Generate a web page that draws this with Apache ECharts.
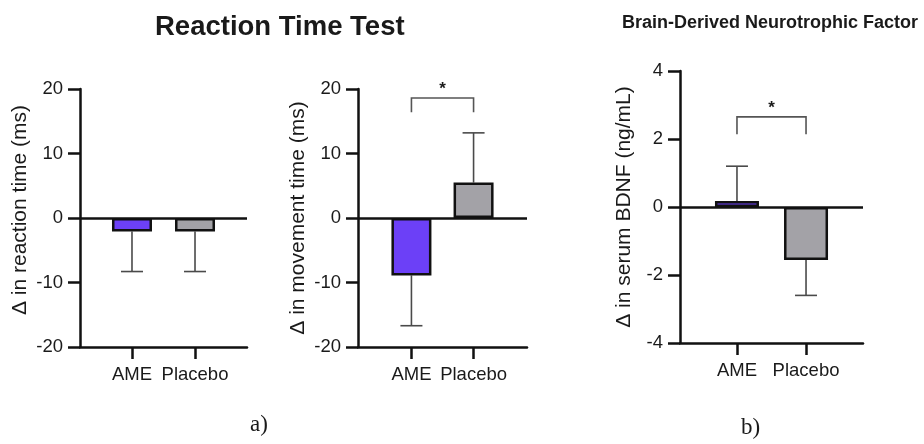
<!DOCTYPE html>
<html>
<head>
<meta charset="utf-8">
<script src="https://cdn.jsdelivr.net/npm/echarts@6/dist/echarts.min.js"></script>
<style>
  html, body { margin: 0; padding: 0; background: #fff; }
  #main { width: 924px; height: 444px; }
</style>
</head>
<body>
<div id="main"></div>
<script>
// data
var categories = ['AME', 'Placebo'];
var barColors = ['#6c40f7', '#a3a2a7'];

var reactionMean = [-2.1, -2.1];
var reactionErr = [6.2, 6.2];

var movementMean = [-8.9, 5.5];
var movementErr = [7.8, 7.7];

var bdnfMean = [0.18, -1.56];
var bdnfErr = [1.02, 1.04];

// significance brackets: [fromCat, toCat, top, legEnd]
var movementBracket = [[0, 1, 18.6, 16.4]];
var bdnfBracket = [[0, 1, 2.65, 2.14]];

var FONT = '"Liberation Sans", Arial, Helvetica, sans-serif';
var INK = '#1a1a1a';

var myChart = echarts.init(document.getElementById('main'));

function barData (means) {
    return means.map(function (v, i) {
        return { value: [i, v], itemStyle: { color: barColors[i] } };
    });
}

function errData (means, errs) {
    // error bar only drawn away from zero
    return means.map(function (v, i) {
        return [i, v, v + (v < 0 ? -errs[i] : errs[i])];
    });
}

function renderErr (params, api) {
    var a = api.coord([api.value(0), api.value(1)]);
    var b = api.coord([api.value(0), api.value(2)]);
    var style = { stroke: '#4a4a4a', lineWidth: 1.6 };
    return {
        type: 'group',
        children: [
            { type: 'line', shape: { x1: a[0], y1: a[1], x2: b[0], y2: b[1] }, style: style },
            { type: 'line', shape: { x1: b[0] - 11, y1: b[1], x2: b[0] + 11, y2: b[1] }, style: style }
        ]
    };
}

function renderBracket (params, api) {
    var p0 = api.coord([api.value(0), api.value(3)]);
    var p1 = api.coord([api.value(0), api.value(2)]);
    var p2 = api.coord([api.value(1), api.value(2)]);
    var p3 = api.coord([api.value(1), api.value(3)]);
    return {
        type: 'group',
        children: [
            { type: 'polyline', shape: { points: [p0, p1, p2, p3] },
              style: { stroke: '#555', lineWidth: 1.6, fill: null } },
            { type: 'text', style: { text: '*', x: (p1[0] + p2[0]) / 2, y: p1[1] - 9,
              textAlign: 'center', textVerticalAlign: 'middle',
              font: 'bold 17px ' + FONT, fill: INK } }
        ]
    };
}

function xAxisFor (idx, min, max) {
    return {
        type: 'value', gridIndex: idx, min: min, max: max,
        splitLine: { show: false },
        axisLine: { onZero: false, lineStyle: { color: '#111', width: 2.5 } },
        axisTick: { customValues: [0, 1], length: 12, lineStyle: { color: '#111', width: 2.5 } },
        axisLabel: {
            customValues: [0, 1], margin: 18, color: INK, fontSize: 18.5, fontFamily: FONT,
            formatter: function (v) { return categories[Math.round(v)]; }
        }
    };
}

function yAxisFor (idx, min, max, step, name, gap, pad) {
    return {
        type: 'value', gridIndex: idx, min: min, max: max, interval: step,
        name: name, nameLocation: 'middle', nameGap: gap,
        nameTextStyle: { color: INK, fontSize: 21, fontFamily: FONT, padding: pad },
        splitLine: { show: false },
        axisLine: { show: true, onZero: false, lineStyle: { color: '#111', width: 2.5 } },
        axisTick: { show: true, length: 12, lineStyle: { color: '#111', width: 2.5 } },
        axisLabel: { margin: 17, color: INK, fontSize: 18.5, fontFamily: FONT }
    };
}

function barSeries (idx, means, width) {
    return {
        type: 'bar', xAxisIndex: idx, yAxisIndex: idx, barWidth: width,
        data: barData(means),
        itemStyle: { borderColor: '#111', borderWidth: 2.5 },
        markLine: {
            silent: true, symbol: 'none', label: { show: false },
            lineStyle: { color: '#111', width: 2.5, type: 'solid' },
            data: [{ yAxis: 0 }]
        },
        z: 3
    };
}

function errSeries (idx, means, errs) {
    return {
        type: 'custom', xAxisIndex: idx, yAxisIndex: idx,
        data: errData(means, errs), renderItem: renderErr, z: 2, silent: true
    };
}

function bracketSeries (idx, data) {
    return {
        type: 'custom', xAxisIndex: idx, yAxisIndex: idx, clip: false,
        data: data, renderItem: renderBracket, z: 4, silent: true
    };
}

myChart.setOption({
    backgroundColor: '#fff',
    animation: false,
    title: [
        { text: 'Reaction Time Test', left: 155, top: 13, padding: 0,
          textStyle: { fontSize: 27.5, fontWeight: 'bold', color: INK, fontFamily: FONT } },
        { text: 'Brain-Derived Neurotrophic Factor', left: 622, top: 14, padding: 0,
          textStyle: { fontSize: 18, fontWeight: 'bold', color: INK, fontFamily: FONT } },
        { text: 'a)', left: 250, top: 413, padding: 0,
          textStyle: { fontSize: 23, fontWeight: 'normal', color: INK, fontFamily: '"Liberation Serif", "Times New Roman", serif' } },
        { text: 'b)', left: 741, top: 416, padding: 0,
          textStyle: { fontSize: 23, fontWeight: 'normal', color: INK, fontFamily: '"Liberation Serif", "Times New Roman", serif' } }
    ],
    grid: [
        { left: 80, top: 89, width: 167, height: 258 },
        { left: 358, top: 89, width: 169, height: 258 },
        { left: 680, top: 71, width: 183, height: 272 }
    ],
    xAxis: [
        xAxisFor(0, -0.825, 1.825),
        xAxisFor(1, -0.86, 1.86),
        xAxisFor(2, -0.825, 1.825)
    ],
    yAxis: [
        yAxisFor(0, -20, 20, 10, 'Δ in reaction time (ms)', 49, [0, 0, 0, 16]),
        yAxisFor(1, -20, 20, 10, 'Δ in movement time (ms)', 49, 0),
        yAxisFor(2, -4, 4, 2, 'Δ in serum BDNF (ng/mL)', 45, 0)
    ],
    series: [
        barSeries(0, reactionMean, 40),
        errSeries(0, reactionMean, reactionErr),
        barSeries(1, movementMean, 40),
        errSeries(1, movementMean, movementErr),
        bracketSeries(1, movementBracket),
        barSeries(2, bdnfMean, 44),
        errSeries(2, bdnfMean, bdnfErr),
        bracketSeries(2, bdnfBracket)
    ]
});
</script>
</body>
</html>
